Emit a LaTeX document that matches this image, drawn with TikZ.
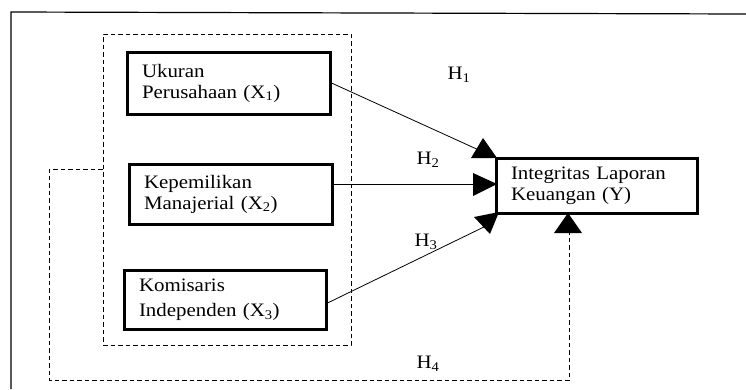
\documentclass[tikz,border=0pt]{standalone}
\usepackage{fontspec}
\setmainfont[FakeStretch=1.1]{Liberation Serif}
\begin{document}
\begin{tikzpicture}[x=1pt,y=-1pt,
  vbox/.style={draw, line width=3pt, inner xsep=15pt, inner ysep=0pt, align=left,
    font=\fontsize{19}{21}\selectfont},
  grpbox/.style={draw, line width=1pt, dash pattern=on 4.5pt off 3pt, inner sep=0pt},
  dline/.style={line width=1pt, dash pattern=on 4.5pt off 3pt},
  conn/.style={line width=0.8pt},
  hlab/.style={font=\fontsize{19}{21}\selectfont, inner sep=0pt},
  head/.style={fill=black}
]
\useasboundingbox (0,0) rectangle (746,389);
% frame
\draw[line width=1.2pt] (11,389) -- (11,12) -- (746,14);
% group
\node[grpbox, minimum width=248pt, minimum height=311pt] (grp) at (227,189.5) {};
% boxes
\node[vbox, text width=173pt, minimum height=62pt] (x1) at (228.5,83) {Ukuran\\Perusahaan (X\textsubscript{1})};
\node[vbox, text width=173pt, minimum height=60pt] (x2) at (230.5,194) {Kepemilikan\\Manajerial (X\textsubscript{2})};
\node[vbox, text width=172pt, minimum height=59pt] (x3) at (225,299.5) {Komisaris\\[4pt]Independen (X\textsubscript{3})};
\node[vbox, text width=171pt, minimum height=55pt] (y) at (596.5,185.5) {Integritas Laporan\\Keuangan (Y)};
% connector end points
\coordinate (e1) at (481,151);
\coordinate (e3) at (488,225);
\coordinate (g1) at (grp.west |- 0,169);
\coordinate (c1) at (49,169);
\coordinate (c2) at (49,380);
\coordinate (c3) at (569,380);
\coordinate (e4) at (569,232);
% connectors
\draw[conn] (x1.east |- 0,83) -- (e1);
\draw[conn] (x2.east |- 0,184) -- (y.west |- 0,184);
\draw[conn] (x3.east |- 0,303) -- (e3);
\draw[dline] (g1) -- (c1) -- (c2) -- (c3) -- (e4);
% arrowheads
\fill[head] (483,138) -- (471,158) -- (497,158) -- cycle;
\fill[head] (497,184) -- (473,173) -- (473,196) -- cycle;
\fill[head] (474,217) -- (499,212) -- (490,234) -- cycle;
\fill[head] (568,213) -- (554,233) -- (582,233) -- cycle;
% labels
\node[hlab] (h1) at (459,75) {H\textsubscript{1}};
\node[hlab] (h2) at (428,160) {H\textsubscript{2}};
\node[hlab] (h3) at (426,242) {H\textsubscript{3}};
\node[hlab] (h4) at (428,364) {H\textsubscript{4}};
\end{tikzpicture}
\end{document}
